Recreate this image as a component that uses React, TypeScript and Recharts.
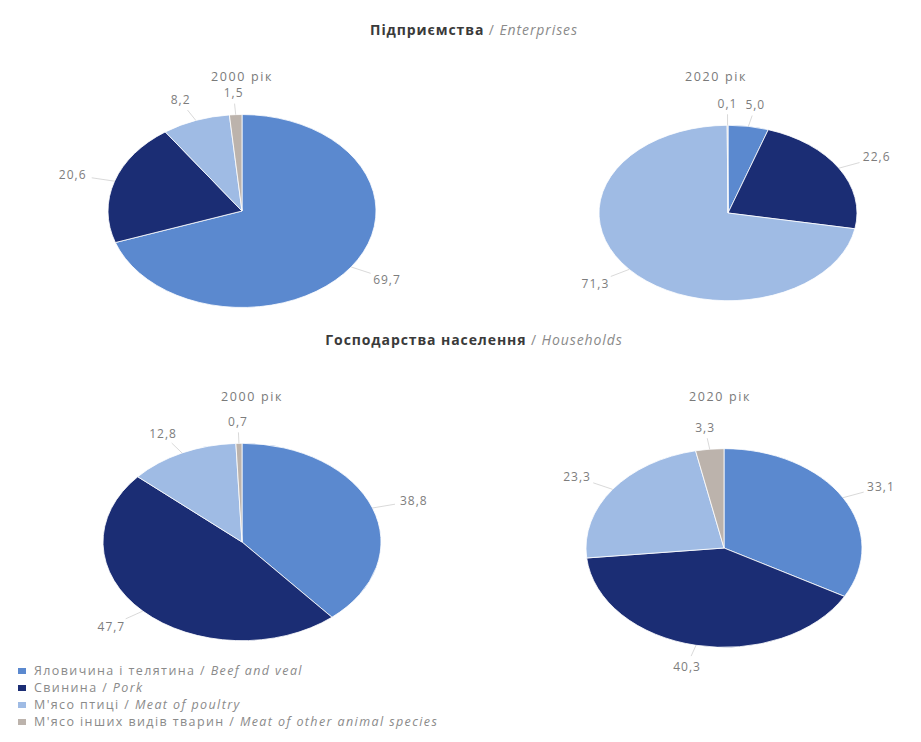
import { PieChart, Pie, Cell } from "recharts";

// categories (uk / en)
const categoriesUk = ["Яловичина і телятина", "Свинина", "М'ясо птиці", "М'ясо інших видів тварин"];
const categoriesEn = ["Beef and veal", "Pork", "Meat of poultry", "Meat of other animal species"];

// shares, %
const enterprises2000 = [69.7, 20.6, 8.2, 1.5];
const enterprises2020 = [5.0, 22.6, 71.3, 0.1];
const households2000 = [38.8, 47.7, 12.8, 0.7];
const households2020 = [33.1, 40.3, 23.3, 3.3];

const yearLabels = ["2000 рік", "2020 рік"];
const COLORS = ["#5b89cf", "#1b2d74", "#9fbbe4", "#bcb3ac"];

const toData = (vals: number[]) => categoriesUk.map((name, i) => ({ name, value: vals[i] }));
const fmt = (v: number) => v.toFixed(1).replace(".", ",");
const RAD = Math.PI / 180;

// flattened (tilted) pie sector
const makeShape = (ratio: number) => (props: any) => {
  const { cx, cy, outerRadius, startAngle, endAngle, fill } = props;
  const rx = outerRadius;
  const ry = outerRadius * ratio;
  const x1 = cx + rx * Math.cos(startAngle * RAD);
  const y1 = cy - ry * Math.sin(startAngle * RAD);
  const x2 = cx + rx * Math.cos(endAngle * RAD);
  const y2 = cy - ry * Math.sin(endAngle * RAD);
  const large = Math.abs(endAngle - startAngle) > 180 ? 1 : 0;
  const sweep = startAngle > endAngle ? 1 : 0;
  return (
    <path
      d={`M ${cx},${cy} L ${x1},${y1} A ${rx},${ry} 0 ${large} ${sweep} ${x2},${y2} Z`}
      fill={fill}
      stroke="#ffffff"
      strokeWidth={0.8}
    />
  );
};

const makeLabel = (ratio: number) => (props: any) => {
  const { cx, cy, outerRadius, midAngle, value } = props;
  const rx = outerRadius;
  const ry = outerRadius * ratio;
  const c = Math.cos(midAngle * RAD);
  const s = Math.sin(midAngle * RAD);
  return (
    <g>
      <line
        x1={cx + rx * c}
        y1={cy - ry * s}
        x2={cx + (rx + 24) * c}
        y2={cy - (ry + 11) * s}
        stroke="#cfcfcf"
        strokeWidth={0.8}
      />
      <text
        x={cx + (rx + 44) * c}
        y={cy - (ry + 22) * s}
        textAnchor="middle"
        dominantBaseline="central"
        fontSize={12}
        letterSpacing={1}
        fill="#7d7d7d"
        fontFamily="'Open Sans', sans-serif"
      >
        {fmt(value)}
      </text>
    </g>
  );
};

const pies = [
  { key: "e2000", values: enterprises2000, cx: 242, cy: 211, r: 134, ratio: 0.72 },
  { key: "e2020", values: enterprises2020, cx: 728, cy: 213, r: 129, ratio: 0.68 },
  { key: "h2000", values: households2000, cx: 242, cy: 542, r: 139, ratio: 0.71 },
  { key: "h2020", values: households2020, cx: 724, cy: 548, r: 138, ratio: 0.72 },
];

const font = "'Open Sans', sans-serif";

function SectionTitle({ uk, en, top }: { uk: string; en: string; top: number }) {
  return (
    <div
      style={{
        position: "absolute",
        left: 0,
        width: 948,
        top,
        textAlign: "center",
        fontFamily: font,
        fontSize: 14,
        letterSpacing: 0.9,
        lineHeight: "18px",
      }}
    >
      <span style={{ fontWeight: 700, color: "#3a3a3a" }}>{uk}</span>
      <span style={{ color: "#8a8a8a" }}> / </span>
      <span style={{ fontStyle: "italic", color: "#8a8a8a" }}>{en}</span>
    </div>
  );
}

function YearTitle({ text, x, y }: { text: string; x: number; y: number }) {
  return (
    <div
      style={{
        position: "absolute",
        left: x - 60,
        width: 120,
        top: y - 9,
        textAlign: "center",
        fontFamily: font,
        fontSize: 12.5,
        letterSpacing: 1.6,
        lineHeight: "18px",
        color: "#7a7a7a",
      }}
    >
      {text}
    </div>
  );
}

export default function App() {
  return (
    <div style={{ position: "fixed", left: 0, top: 0, width: 921, height: 742, background: "#fff", overflow: "hidden" }}>
      <SectionTitle uk="Підприємства" en="Enterprises" top={21} />
      <SectionTitle uk="Господарства населення" en="Households" top={331} />
      <YearTitle text={yearLabels[0]} x={242} y={77} />
      <YearTitle text={yearLabels[1]} x={716} y={77} />
      <YearTitle text={yearLabels[0]} x={252} y={397} />
      <YearTitle text={yearLabels[1]} x={720} y={397} />

      <div style={{ position: "absolute", left: 0, top: 0 }}>
        <PieChart width={921} height={742} margin={{ top: 0, right: 0, bottom: 0, left: 0 }}>
          {pies.map((p) => {
            const shape = makeShape(p.ratio);
            return (
              <Pie
                key={p.key}
                data={toData(p.values)}
                dataKey="value"
                nameKey="name"
                cx={p.cx}
                cy={p.cy}
                outerRadius={p.r}
                startAngle={90}
                endAngle={-270}
                shape={shape}
                inactiveShape={shape}
                activeShape={shape}
                label={makeLabel(p.ratio)}
                labelLine={false}
                isAnimationActive={false}
              >
                {p.values.map((_, i) => (
                  <Cell key={i} fill={COLORS[i]} />
                ))}
              </Pie>
            );
          })}
        </PieChart>
      </div>

      <div
        style={{
          position: "absolute",
          left: 18,
          top: 662,
          fontFamily: font,
          fontSize: 12.5,
          lineHeight: "17px",
          letterSpacing: 1.4,
          color: "#8a8a8a",
        }}
      >
        {categoriesUk.map((uk, i) => (
          <div key={uk} style={{ display: "flex", alignItems: "center", height: 17 }}>
            <span style={{ display: "inline-block", width: 8, height: 6, background: COLORS[i], marginRight: 8 }} />
            <span>{uk}</span>
            <span>&nbsp;/&nbsp;</span>
            <span style={{ fontStyle: "italic" }}>{categoriesEn[i]}</span>
          </div>
        ))}
      </div>
    </div>
  );
}
